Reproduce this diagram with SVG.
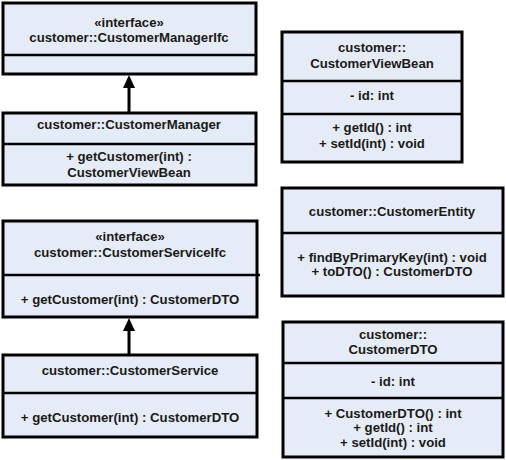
<svg xmlns="http://www.w3.org/2000/svg" width="506" height="460" viewBox="0 0 506 460">
<style>
.box{fill:#e6ecf7;stroke:#000;stroke-width:3}
.div{stroke:#000;stroke-width:2.5}
text{font-family:"Liberation Sans",Arial,sans-serif;font-size:13.2px;font-weight:bold;text-anchor:middle;fill:#1a1a1a}
.conn{stroke:#000;stroke-width:3;fill:none}
.head{fill:#000}
</style>
<g id="connectors">
<line class="conn" x1="129" y1="113" x2="129" y2="88"/>
<path class="head" d="M129,75 L135,88 L123,88 Z"/>
<line class="conn" x1="129" y1="355" x2="129" y2="331"/>
<path class="head" d="M129,318 L135,331 L123,331 Z"/>
</g>
<g id="CustomerManagerIfc">
<rect class="box" x="3" y="3" width="253" height="71"/>
<line class="div" x1="3" y1="55" x2="256" y2="55"/>
<text x="129" y="27">«interface»</text>
<text x="129" y="42">customer::CustomerManagerIfc</text>
</g>
<g id="CustomerManager">
<rect class="box" x="3" y="113" width="253" height="72"/>
<line class="div" x1="3" y1="144" x2="256" y2="144"/>
<text x="129" y="129">customer::CustomerManager</text>
<text x="129" y="161">+ getCustomer(int) :</text>
<text x="129" y="177">CustomerViewBean</text>
</g>
<g id="CustomerServiceIfc">
<rect class="box" x="3" y="221" width="254" height="96"/>
<line class="div" x1="3" y1="275" x2="260" y2="275"/>
<text x="130" y="241">«interface»</text>
<text x="130" y="257">customer::CustomerServiceIfc</text>
<text x="130" y="304">+ getCustomer(int) : CustomerDTO</text>
</g>
<g id="CustomerService">
<rect class="box" x="3" y="355" width="254" height="82"/>
<line class="div" x1="3" y1="393" x2="257" y2="393"/>
<text x="130" y="375">customer::CustomerService</text>
<text x="130" y="422">+ getCustomer(int) : CustomerDTO</text>
</g>
<g id="CustomerViewBean">
<rect class="box" x="282" y="32" width="180" height="130"/>
<line class="div" x1="282" y1="81" x2="462" y2="81"/>
<line class="div" x1="282" y1="114" x2="462" y2="114"/>
<text x="372" y="52">customer::</text>
<text x="372" y="68">CustomerViewBean</text>
<text x="372" y="100">- id: int</text>
<text x="372" y="132">+ getId() : int</text>
<text x="372" y="148">+ setId(int) : void</text>
</g>
<g id="CustomerEntity">
<rect class="box" x="282" y="188" width="221" height="108"/>
<line class="div" x1="282" y1="233" x2="503" y2="233"/>
<text x="392" y="216">customer::CustomerEntity</text>
<text x="392" y="262">+ findByPrimaryKey(int) : void</text>
<text x="392" y="276">+ toDTO() : CustomerDTO</text>
</g>
<g id="CustomerDTO">
<rect class="box" x="283" y="322" width="220" height="135"/>
<line class="div" x1="283" y1="363" x2="503" y2="363"/>
<line class="div" x1="283" y1="398" x2="503" y2="398"/>
<text x="393" y="339">customer::</text>
<text x="393" y="354">CustomerDTO</text>
<text x="393" y="386">- id: int</text>
<text x="393" y="418">+ CustomerDTO() : int</text>
<text x="393" y="432">+ getId() : int</text>
<text x="393" y="447">+ setId(int) : void</text>
</g>
</svg>
